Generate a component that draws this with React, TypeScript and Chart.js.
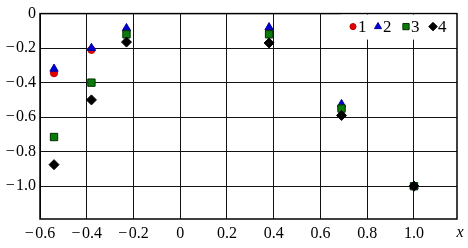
import React, { useEffect, useRef } from "react";
import { Chart, registerables } from "chart.js";
Chart.register(...registerables);

const xValues = [-0.54, -0.38, -0.23, 0.38, 0.69, 1.0];
const series1 = [-0.345, -0.21, -0.1, -0.1, -0.55, -1.0];
const series2 = [-0.32, -0.2, -0.085, -0.08, -0.525, -1.0];
const series3 = [-0.715, -0.4, -0.12, -0.12, -0.55, -1.0];
const series4 = [-0.875, -0.5, -0.165, -0.17, -0.59, -1.0];
const seriesLabels = ["1", "2", "3", "4"];
const xTicks = [-0.6, -0.4, -0.2, 0, 0.2, 0.4, 0.6, 0.8, 1.0];
const yTicks = [0, -0.2, -0.4, -0.6, -0.8, -1.0];
const axisTitle = "x";

const FONT = "'Liberation Serif', 'Times New Roman', serif";

const fmt = (v: number) => {
  if (Math.abs(v) < 1e-9) return "0";
  const s = Math.abs(v).toFixed(1);
  return v < 0 ? "\u2212\u200A" + s : s;
};

const styles = [
  { shape: "circle", fill: "#e00000", stroke: "#c00000", r: 3.6 },
  { shape: "triangle", fill: "#0000d0", stroke: "#0000a0", r: 4.8 },
  { shape: "rect", fill: "#0a7a0a", stroke: "#003300", r: 5.2 },
  { shape: "rectRot", fill: "#000000", stroke: "#000000", r: 5 },
];

function drawMarker(ctx: CanvasRenderingContext2D, shape: string, x: number, y: number, r: number, fill: string, stroke: string) {
  ctx.save();
  ctx.fillStyle = fill;
  ctx.strokeStyle = stroke;
  ctx.lineWidth = 1;
  ctx.beginPath();
  if (shape === "circle") {
    ctx.arc(x, y, r, 0, Math.PI * 2);
  } else if (shape === "triangle") {
    ctx.moveTo(x, y - r);
    ctx.lineTo(x + r * 0.866, y + r * 0.5);
    ctx.lineTo(x - r * 0.866, y + r * 0.5);
    ctx.closePath();
  } else if (shape === "rect") {
    const s = r * Math.SQRT1_2;
    ctx.rect(x - s, y - s, 2 * s, 2 * s);
  } else {
    ctx.moveTo(x - r, y);
    ctx.lineTo(x, y - r);
    ctx.lineTo(x + r, y);
    ctx.lineTo(x, y + r);
    ctx.closePath();
  }
  ctx.fill();
  ctx.stroke();
  ctx.restore();
}

const decorPlugin = {
  id: "decor",
  afterDatasetsDraw(chart: any) {
    const { ctx, chartArea } = chart;
    ctx.save();
    ctx.strokeStyle = "#000";
    ctx.lineWidth = 1.5;
    ctx.strokeRect(chartArea.left, chartArea.top, chartArea.right - chartArea.left, chartArea.bottom - chartArea.top);
    const bx = chartArea.right - 116;
    const by = chartArea.top + 1;
    ctx.fillStyle = "#fff";
    ctx.fillRect(bx, by, 115, 25);
    const cy = chartArea.top + 13;
    const mx = [353, 378, 406, 433].map((v) => v - 457 + chartArea.right);
    ctx.font = "17px " + FONT;
    ctx.textBaseline = "middle";
    ctx.textAlign = "left";
    styles.forEach((st, i) => {
      drawMarker(ctx, st.shape, mx[i], cy, st.r * 0.85, st.fill, st.stroke);
      ctx.fillStyle = "#000";
      ctx.fillText(seriesLabels[i], mx[i] + 5, cy + 1);
    });
    ctx.font = "italic 16px " + FONT;
    ctx.textAlign = "center";
    ctx.textBaseline = "middle";
    ctx.fillStyle = "#000";
    ctx.fillText(axisTitle, chartArea.right + 3, chartArea.bottom + 14);
    ctx.restore();
  },
};

export default function App() {
  const ref = useRef<HTMLCanvasElement | null>(null);
  useEffect(() => {
    if (!ref.current) return;
    const all = [series1, series2, series3, series4];
    const chart = new Chart(ref.current, {
      type: "scatter",
      data: {
        datasets: all.map((ys, i) => ({
          label: seriesLabels[i],
          data: xValues.map((x, j) => ({ x, y: ys[j] })),
          pointStyle: styles[i].shape as any,
          pointRadius: styles[i].r,
          pointBackgroundColor: styles[i].fill,
          pointBorderColor: styles[i].stroke,
          pointBorderWidth: 1,
          showLine: false,
          order: 3 - i,
        })),
      },
      options: {
        responsive: false,
        animation: false,
        devicePixelRatio: 1,
        layout: { padding: { left: 0, top: 12, right: 11, bottom: 0 } },
        plugins: { legend: { display: false }, tooltip: { enabled: false } },
        scales: {
          x: {
            type: "linear",
            min: -0.6,
            max: 1.184,
            afterBuildTicks: (s: any) => {
              s.ticks = xTicks.map((v) => ({ value: v }));
            },
            afterFit: (s: any) => {
              s.height = 29;
            },
            grid: { color: "#111", lineWidth: 1, drawTicks: false },
            border: { display: false },
            ticks: {
              padding: 5,
              color: "#000",
              font: { family: FONT, size: 16 },
              maxRotation: 0,
              autoSkip: false,
              callback: (v: any) => fmt(Number(v)),
            },
          },
          y: {
            type: "linear",
            min: -1.19,
            max: 0,
            afterBuildTicks: (s: any) => {
              s.ticks = yTicks.map((v) => ({ value: v }));
            },
            afterFit: (s: any) => {
              s.width = 40;
            },
            grid: { color: "#111", lineWidth: 1, drawTicks: false },
            border: { display: false },
            ticks: {
              padding: 4,
              color: "#000",
              font: { family: FONT, size: 16 },
              autoSkip: false,
              callback: (v: any) => fmt(Number(v)),
            },
          },
        },
      },
      plugins: [decorPlugin],
    });
    return () => chart.destroy();
  }, []);
  return (
    <div style={{ position: "absolute", left: 0, top: 0, width: 468, height: 248, background: "#fff" }}>
      <canvas ref={ref} width={468} height={248} />
    </div>
  );
}
